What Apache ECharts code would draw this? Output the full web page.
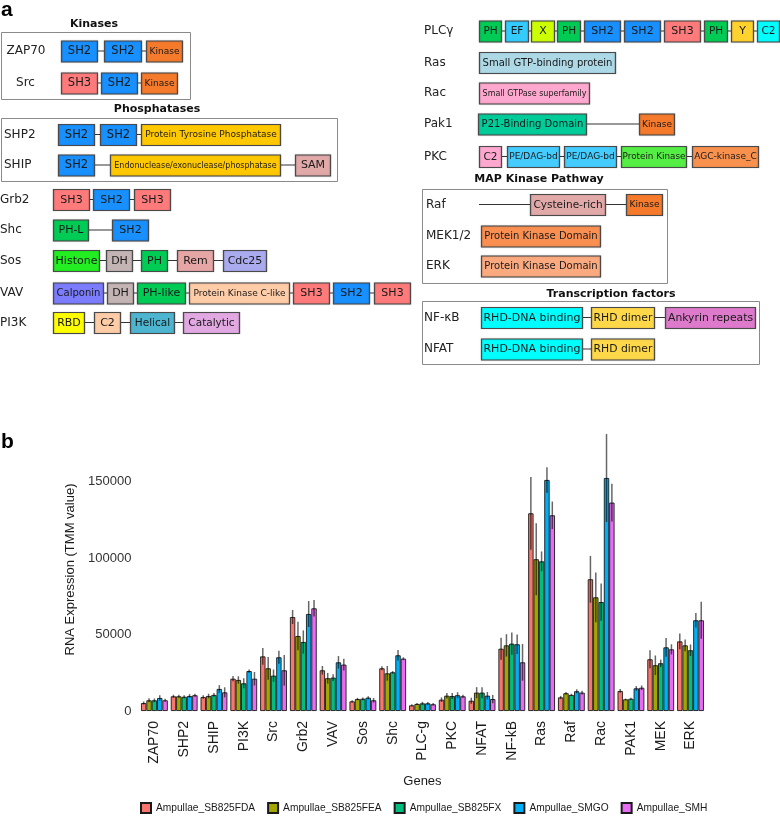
<!DOCTYPE html>
<html><head><meta charset="utf-8">
<script src="https://cdn.jsdelivr.net/npm/echarts@6/dist/echarts.min.js"></script>
<style>html,body{margin:0;padding:0;background:#fff}#c{width:780px;height:821px}</style>
</head><body><div id="c"></div><script>
// ---------------- DATA ----------------
// Panel a: proteins and their domains
const proteins = ['ZAP70','Src','SHP2','SHIP','Grb2','Shc','Sos','VAV','PI3K','PLCγ','Ras','Rac','Pak1','PKC','Raf','MEK1/2','ERK','NF-κB','NFAT'];
const proteinDomains = [
  ['SH2','SH2','Kinase'],
  ['SH3','SH2','Kinase'],
  ['SH2','SH2','Protein Tyrosine Phosphatase'],
  ['SH2','Endonuclease/exonuclease/phosphatase','SAM'],
  ['SH3','SH2','SH3'],
  ['PH-L','SH2'],
  ['Histone','DH','PH','Rem','Cdc25'],
  ['Calponin','DH','PH-like','Protein Kinase C-like','SH3','SH2','SH3'],
  ['RBD','C2','Helical','Catalytic'],
  ['PH','EF','X','PH','SH2','SH2','SH3','PH','Y','C2'],
  ['Small GTP-binding protein'],
  ['Small GTPase superfamily'],
  ['P21-Binding Domain','Kinase'],
  ['C2','PE/DAG-bd','PE/DAG-bd','Protein Kinase','AGC-kinase_C'],
  ['Cysteine-rich','Kinase'],
  ['Protein Kinase Domain'],
  ['Protein Kinase Domain'],
  ['RHD-DNA binding','RHD dimer','Ankyrin repeats'],
  ['RHD-DNA binding','RHD dimer']
];
const groupTitles = ['Kinases','Phosphatases','MAP Kinase Pathway','Transcription factors'];

// Panel b: expression data
const genes = ['ZAP70','SHP2','SHIP','PI3K','Src','Grb2','VAV','Sos','Shc','PLC-g','PKC','NFAT','NF-kB','Ras','Raf','Rac','PAK1','MEK','ERK'];
const samples = ['Ampullae_SB825FDA','Ampullae_SB825FEA','Ampullae_SB825FX','Ampullae_SMGO','Ampullae_SMH'];
const meanFDA  = [5200, 9600, 9150, 21100, 35700, 61400, 26600, 6300, 27900, 3700, 7400, 6700, 40700, 129200, 8900, 86100, 13100, 33800, 45500];
const meanFEA  = [7000, 9600, 9800, 20300, 27900, 49000, 21400, 7800, 24600, 4600, 10000, 12000, 42900, 99200, 11600, 74300, 7600, 29900, 42900];
const meanFX   = [7000, 9300, 10500, 18100, 23100, 45100, 21800, 8000, 25300, 5000, 9800, 12000, 44000, 97800, 10500, 71200, 8000, 31200, 39700];
const meanSMGO = [8500, 9800, 14400, 26100, 35100, 63400, 31800, 8700, 36400, 5000, 10300, 10000, 43600, 151000, 12900, 152300, 14800, 41600, 59300];
const meanSMH  = [7000, 10300, 12200, 21100, 26600, 67100, 30300, 7000, 34200, 4400, 9600, 7800, 31800, 127900, 12000, 136200, 15200, 40300, 59300];
const errFDA  = [1000, 1000, 1200, 1700, 5500, 4600, 2800, 800, 1300, 700, 1500, 2000, 7200, 23800, 1000, 15300, 1200, 5900, 5200];
const errFEA  = [1300, 1000, 1500, 2400, 7400, 9300, 3500, 800, 4800, 600, 1800, 3600, 7300, 23500, 800, 16300, 500, 6400, 3900];
const errFX   = [1200, 1000, 1200, 3300, 4000, 7600, 2200, 900, 800, 1000, 2000, 3600, 7300, 6500, 800, 12200, 700, 2400, 3800];
const errSMGO = [1800, 1200, 2500, 1100, 4200, 8500, 4100, 1000, 3400, 900, 2000, 2400, 6400, 8300, 1300, 28700, 1500, 6100, 4800];
const errSMH  = [1000, 1000, 3300, 4400, 10000, 5400, 3800, 1500, 900, 800, 1000, 2700, 12000, 9000, 1200, 12300, 1500, 3300, 12100];
const yTicks = [0, 50000, 100000, 150000];

// ---------------- LAYOUT / STYLE (panel a) ----------------
const C = {sh2:'#1890FF', kin:'#F57A2C', sh3:'#FF7B7B', ptp:'#FFC800', sam:'#E2A9A9', ph:'#00CC55', his:'#22EE22',
  dh:'#C4B4B4', rem:'#E6A6A6', cdc:'#AAAAEE', cal:'#7C7CFF', pkcl:'#FFCCA8', rbd:'#FFFF00', helical:'#4DB5CF',
  cat:'#E2A8E2', ef:'#33CCFF', x:'#CCFF00', y:'#FFD22E', c2c:'#00FFFF', ras:'#ADD8E6', rac:'#FFA8CF', p21:'#00CC99',
  pe:'#44CCFF', pk:'#55EE44', agc:'#F9914E', mek:'#FA8F52', erk:'#FBAA80', rhd:'#00FFFF', dim:'#FFD84A', ank:'#DD7ACC'};
const rowLayout = [
  {lx:26, al:'center', y:51, sp:[[61,97],[104,141],[146,182]], col:[C.sh2,C.sh2,C.kin], fs:[11.5,11.5,9]},
  {lx:25.5, al:'center', y:83, sp:[[61,97],[101,137],[141,177]], col:[C.sh3,C.sh2,C.kin], fs:[11.5,11.5,9]},
  {lx:4, al:'left', y:134.5, sp:[[58,94],[100,136],[141,280]], col:[C.sh2,C.sh2,C.ptp], fs:[11.5,11.5,9]},
  {lx:4, al:'left', y:165, sp:[[58,94],[110,280],[295,330]], col:[C.sh2,C.ptp,C.sam], fs:[11.5,8,11]},
  {lx:0, al:'left', y:199.5, sp:[[53,89],[93,129],[134,170]], col:[C.sh3,C.sh2,C.sh3], fs:[11,11,11]},
  {lx:0, al:'left', y:230, sp:[[53,88],[112,148]], col:[C.ph,C.sh2], fs:[11,11]},
  {lx:0, al:'left', y:260.5, sp:[[53,99],[106,132],[141,167],[177,213],[223,266]], col:[C.his,C.dh,C.ph,C.rem,C.cdc], fs:[11,11,11,11,11]},
  {lx:0, al:'left', y:293, sp:[[53,103],[107,133],[137,185],[189,289],[293,329],[333,369],[374,410]], col:[C.cal,C.dh,C.ph,C.pkcl,C.sh3,C.sh2,C.sh3], fs:[10,11,11,9,11,11,11]},
  {lx:0, al:'left', y:322.5, sp:[[53,84],[94,120],[130,174],[183,239]], col:[C.rbd,C.pkcl,C.helical,C.cat], fs:[11,11,10.5,10.5]},
  {lx:424, al:'left', y:31, sp:[[479,501],[505,528],[531,554],[557,580],[584,620],[624,660],[664,700],[704,727],[731,753],[757,779]], col:[C.ph,C.ef,C.x,C.ph,C.sh2,C.sh2,C.sh3,C.ph,C.y,C.c2c], fs:[10.5,10.5,11,10.5,11,11,11,10.5,11,10.5]},
  {lx:424, al:'left', y:62.5, sp:[[479,615]], col:[C.ras], fs:[10]},
  {lx:424, al:'left', y:93, sp:[[479,589]], col:[C.rac], fs:[8]},
  {lx:424, al:'left', y:124, sp:[[478,586],[639,674]], col:[C.p21,C.kin], fs:[10,9]},
  {lx:424, al:'left', y:156.5, sp:[[479,501],[507,559],[564,616],[621,686],[692,758]], col:[C.rac,C.pe,C.pe,C.pk,C.agc], fs:[10.5,9,9,8.8,9]},
  {lx:426, al:'left', y:204.5, sp:[[530,605],[626,662]], col:[C.sam,C.kin], fs:[10.5,9], line0:479},
  {lx:426, al:'left', y:236, sp:[[481,600]], col:[C.mek], fs:[10]},
  {lx:426, al:'left', y:266, sp:[[481,600]], col:[C.erk], fs:[10]},
  {lx:424, al:'left', y:317.5, sp:[[481,582],[591,654],[665,755]], col:[C.rhd,C.dim,C.ank], fs:[11,10.8,10.8]},
  {lx:424, al:'left', y:349, sp:[[481,582],[591,654]], col:[C.rhd,C.dim], fs:[11,10.8]}
];
const boxH = 21;
const groupBoxes = [[1,32,190,99],[1,118,337,181],[422,189,667,283],[422,301,759,364]];
const groupTitlePos = [[94,24],[157,109],[539,179],[611,294]];

const FA = '"DejaVu Sans", Verdana, sans-serif';
const FB = '"Liberation Sans", Arial, sans-serif';

const els = [];
els.push({type:'text', x:1, y:0, style:{text:'a', fontFamily:FB, fontWeight:'bold', fontSize:21, fill:'#000', align:'left', verticalAlign:'top'}});
els.push({type:'text', x:1, y:432, style:{text:'b', fontFamily:FB, fontWeight:'bold', fontSize:21, fill:'#000', align:'left', verticalAlign:'top'}});
groupBoxes.forEach(b => els.push({type:'rect', shape:{x:b[0]+0.5, y:b[1]+0.5, width:b[2]-b[0], height:b[3]-b[1]}, style:{fill:'none', stroke:'#8a8a8a', lineWidth:1}}));
groupTitles.forEach((t,i) => els.push({type:'text', x:groupTitlePos[i][0], y:groupTitlePos[i][1], style:{text:t, fontFamily:FA, fontWeight:'bold', fontSize:11, fill:'#111', align:'center', verticalAlign:'middle'}}));
proteins.forEach((p, r) => {
  const L = rowLayout[r];
  els.push({type:'text', x:L.lx, y:L.y, style:{text:p, fontFamily:FA, fontSize:12, fill:'#222', align:L.al, verticalAlign:'middle'}});
  const sp = L.sp;
  const x0 = (L.line0 !== undefined) ? L.line0 : sp[0][0];
  const x1 = sp[sp.length-1][1];
  els.push({type:'line', shape:{x1:x0, y1:L.y, x2:x1, y2:L.y}, style:{stroke:'#333', lineWidth:1}});
  proteinDomains[r].forEach((d, k) => {
    const s = sp[k];
    els.push({type:'rect', shape:{x:s[0]+0.5, y:L.y-boxH/2+0.5, width:s[1]-s[0], height:boxH},
      style:{fill:L.col[k], stroke:'#4a4a4a', lineWidth:1.2, shadowColor:'rgba(0,0,0,0.25)', shadowBlur:1.5}});
    els.push({type:'text', x:(s[0]+s[1])/2+0.5, y:L.y+0.5, style:{text:d, fontFamily:FA, fontSize:L.fs[k], fill:'#1a1a1a', align:'center', verticalAlign:'middle'}});
  });
});

// ---------------- PANEL b ----------------
const colors = ['#F8766D','#A3A500','#00BF7D','#00B0F6','#E76BF3'];
const means = [meanFDA, meanFEA, meanFX, meanSMGO, meanSMH];
const errs = [errFDA, errFEA, errFX, errSMGO, errSMH];

const series = [];
samples.forEach((s,k) => {
  series.push({type:'bar', name:s, data:means[k], barGap:'0%', barCategoryGap:'10%',
    itemStyle:{color:colors[k], borderColor:'#1a1a1a', borderWidth:0.9}, z:2});
});
samples.forEach((s,k) => {
  series.push({type:'custom', name:s+'_err', z:5, clip:false,
    renderItem:function(params, api){
      const ci = api.value(0), m = api.value(1), e = api.value(2);
      const band = api.size([1,0])[0];
      const bw = band*0.9/5;
      const off = (k-2)*bw;
      const p1 = api.coord([ci, m+e]);
      const p2 = api.coord([ci, m-e]);
      const x = p1[0]+off;
      return {type:'line', shape:{x1:x, y1:p1[1], x2:x, y2:p2[1]}, style:{stroke:'rgba(0,0,0,0.6)', lineWidth:1.5}};
    },
    encode:{x:0, y:1},
    data: genes.map((g,i) => [i, means[k][i], errs[k][i]])
  });
});

const option = {
  animation:false,
  backgroundColor:'#fff',
  graphic: els,
  grid:{left:139.5, right:74.6, top:427.95, bottom:110},
  xAxis:{type:'category', data:genes, axisLine:{show:false}, axisTick:{show:false},
    axisLabel:{interval:0, rotate:90, fontSize:14, fontFamily:FB, color:'#1a1a1a', margin:10},
    name:'Genes', nameLocation:'middle', nameGap:64, nameTextStyle:{fontSize:13, fontFamily:FB, color:'#1a1a1a'}},
  yAxis:{type:'value', min:0, max:185000, interval:50000, splitLine:{show:false}, axisLine:{show:false}, axisTick:{show:false},
    axisLabel:{fontSize:13, fontFamily:FB, color:'#333', margin:8, showMaxLabel:false,
      formatter:function(v){ return yTicks.indexOf(v) >= 0 ? String(v) : ''; }},
    name:'RNA Expression (TMM value)', nameLocation:'middle', nameGap:50, nameTextStyle:{fontSize:13, fontFamily:FB, color:'#1a1a1a'}},
  legend:{data:samples, bottom:2, left:135, icon:'rect', itemWidth:10, itemHeight:10, itemGap:12,
    textStyle:{fontSize:10.2, fontFamily:FB, color:'#1a1a1a'}},
  series: series
};
const chart = echarts.init(document.getElementById('c'), null, {renderer:'canvas'});
chart.setOption(option);
</script></body></html>
